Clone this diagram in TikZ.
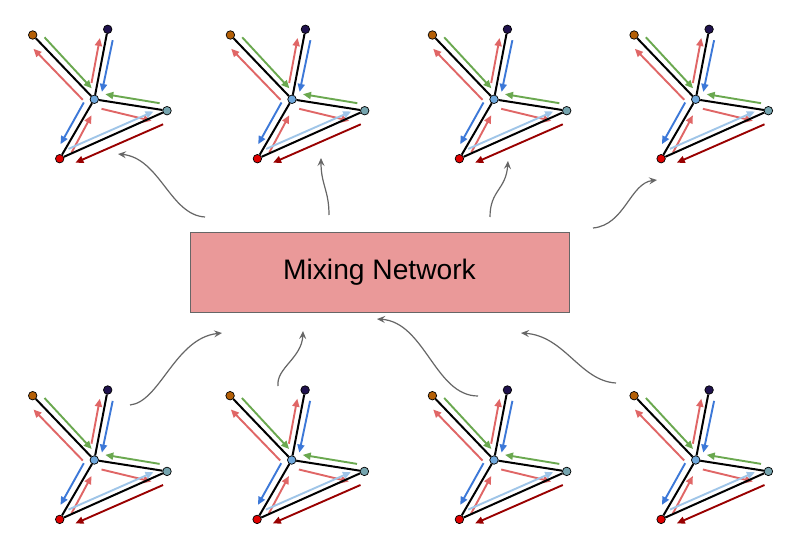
\documentclass[tikz,border=0pt]{standalone}
\usepackage{fontspec}
\setmainfont{Liberation Sans}
\usetikzlibrary{arrows.meta}
\definecolor{cgreen}{HTML}{6AA84F}
\definecolor{csalmon}{HTML}{E06666}
\definecolor{cblue}{HTML}{3C78D8}
\definecolor{clblue}{HTML}{9FC5E8}
\definecolor{cdred}{HTML}{990000}
\definecolor{nbrown}{HTML}{B45F06}
\definecolor{npurple}{HTML}{20124D}
\definecolor{ncenter}{HTML}{6FA8DC}
\definecolor{nright}{HTML}{76A5AF}
\definecolor{nred}{HTML}{E00000}
\definecolor{boxfill}{HTML}{EA9999}
\definecolor{cgrey}{HTML}{666666}
\tikzset{
  vert/.style={circle, draw=black, line width=0.7bp, inner sep=0pt, minimum size=8.5bp},
  edgeline/.style={black, line width=2bp},
  flow/.style={line width=1.9bp, -{Triangle[length=8bp,width=7bp]}},
  link/.style={cgrey, line width=1.2bp, -{Stealth[length=8bp,width=7bp,inset=3bp]}},
  mixbox/.style={draw=cgrey, line width=1bp, fill=boxfill, minimum width=379bp, minimum height=80bp, font=\fontsize{28.3}{30}\selectfont},
  motif/.pic={
    \draw[flow, cgreen]  (-49.8,-62.0) -- (-2.6,-11.0);
    \draw[flow, csalmon] (-11.5,0.5) -- (-60.8,-50.5);
    \draw[flow, csalmon] (-2.8,-16.3) -- (5.6,-61.3);
    \draw[flow, cblue]   (18.4,-59.1) -- (7.6,-7.4);
    \draw[flow, cgreen]  (65.3,3.9) -- (11.0,-5.1);
    \draw[flow, csalmon] (7.2,9.5) -- (57.2,21.5);
    \draw[flow, cblue]   (-10.5,3.2) -- (-33.8,44.9);
    \draw[flow, csalmon] (-22.8,53.4) -- (-2.8,16.0);
    \draw[flow, clblue]  (-25.8,49.6) -- (59.2,12.2);
    \draw[flow, cdred]   (68.8,25) -- (-18.9,63.4);
    \node[vert, fill=ncenter] (-c) at (0,0) {};
    \node[vert, fill=nbrown]  (-b) at (-61.6,-64.3) {};
    \node[vert, fill=npurple] (-p) at (13.4,-70) {};
    \node[vert, fill=nright]  (-r) at (72.7,11.4) {};
    \node[vert, fill=nred]    (-d) at (-34.6,59.4) {};
    \draw[edgeline] (-b) -- (-c);
    \draw[edgeline] (-p) -- (-c);
    \draw[edgeline] (-c) -- (-r);
    \draw[edgeline] (-c) -- (-d);
    \draw[edgeline] (-d) -- (-r);
  }
}
\begin{document}
\begin{tikzpicture}[x=1bp, y=-1bp]
  \useasboundingbox (0,0) rectangle (795,546);
  \fill[white] (0,0) rectangle (795,546);

  \pic (t1) at (94.3,99.3) {motif};
  \pic (t2) at (292,99.3) {motif};
  \pic (t3) at (494,99.3) {motif};
  \pic (t4) at (695.7,99.3) {motif};
  \pic (b1) at (94.3,460) {motif};
  \pic (b2) at (291.7,460) {motif};
  \pic (b3) at (494,460) {motif};
  \pic (b4) at (695.7,460) {motif};

  \node[mixbox] (mix) at (379.5,272.3) {Mixing Network};

  \coordinate (s1) at (205,217);   \coordinate (e1) at (118,154);
  \coordinate (s2) at (329,215);   \coordinate (e2) at (321,158);
  \coordinate (s3) at (490,217);   \coordinate (e3) at (508,161);
  \coordinate (s4) at (593,228);   \coordinate (e4) at (657,180);
  \coordinate (s5) at (130,405);   \coordinate (e5) at (222,333);
  \coordinate (s6) at (278,386);   \coordinate (e6) at (303,331);
  \coordinate (s7) at (478,396);   \coordinate (e7) at (377,319);
  \coordinate (s8) at (616,383);   \coordinate (e8) at (521,333);

  \draw[link] (s1) .. controls (170,215) and (160,158) .. (e1);
  \draw[link] (s2) .. controls (329,190) and (321,185) .. (e2);
  \draw[link] (s3) .. controls (490,190) and (506,190) .. (e3);
  \draw[link] (s4) .. controls (625,225) and (630,183) .. (e4);
  \draw[link] (s5) .. controls (160,402) and (175,338) .. (e5);
  \draw[link] (s6) .. controls (276,368) and (302,358) .. (e6);
  \draw[link] (s7) .. controls (435,396) and (425,322) .. (e7);
  \draw[link] (s8) .. controls (580,381) and (565,336) .. (e8);
\end{tikzpicture}
\end{document}
